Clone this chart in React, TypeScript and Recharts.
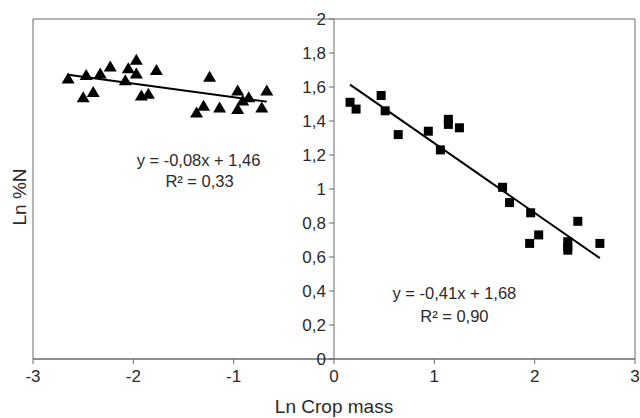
import {
  ScatterChart, Scatter, XAxis, YAxis, ReferenceLine, ReferenceArea, ReferenceDot,
} from 'recharts'

// low crop mass group (triangles)
const lowX = [-2.65, -2.47, -2.50, -2.40, -2.33, -2.23, -2.08, -2.05, -1.97, -1.97, -1.92, -1.85, -1.77,
  -1.24, -1.37, -1.30, -1.14, -0.96, -0.96, -0.91, -0.85, -0.72, -0.67]
const lowY = [1.65, 1.67, 1.54, 1.57, 1.68, 1.72, 1.64, 1.71, 1.76, 1.68, 1.55, 1.56, 1.70,
  1.66, 1.45, 1.49, 1.48, 1.58, 1.47, 1.52, 1.54, 1.48, 1.58]

// high crop mass group (squares)
const highX = [0.16, 0.22, 0.47, 0.51, 0.64, 0.94, 1.06, 1.14, 1.14, 1.25,
  1.68, 1.75, 1.96, 2.43, 2.04, 1.95, 2.33, 2.33, 2.33, 2.65]
const highY = [1.51, 1.47, 1.55, 1.46, 1.32, 1.34, 1.23, 1.41, 1.38, 1.36,
  1.01, 0.92, 0.86, 0.81, 0.73, 0.68, 0.69, 0.66, 0.64, 0.68]

// trend line end points
const lowFitX = [-2.65, -0.67]
const lowFitY = [1.672, 1.514]
const highFitX = [0.16, 2.65]
const highFitY = [1.614, 0.593]

const xTicks = [-3, -2, -1, 0, 1, 2, 3]
const yTicks = [0, 0.2, 0.4, 0.6, 0.8, 1, 1.2, 1.4, 1.6, 1.8, 2]

const lowLabel = ['y = -0,08x + 1,46', 'R² = 0,33']
const highLabel = ['y = -0,41x + 1,68', 'R² = 0,90']

const AXIS = '#6b6b6b'
const INK = '#2a2a2a'
const FONT = '"Liberation Sans", Arial, sans-serif'

const zip = (xs: number[], ys: number[]) => xs.map((x, i) => ({ x, y: ys[i] }))
const fmt = (v: number) => String(v).replace('.', ',')

function Triangle({ cx, cy }: { cx?: number; cy?: number }) {
  if (cx == null || cy == null) return null
  return <path d={`M${cx},${cy - 6}L${cx + 6.5},${cy + 5}L${cx - 6.5},${cy + 5}Z`} fill="#000" />
}

function Square({ cx, cy }: { cx?: number; cy?: number }) {
  if (cx == null || cy == null) return null
  return <rect x={cx - 4.5} y={cy - 4.5} width={9} height={9} fill="#000" />
}

function YTitle({ viewBox }: { viewBox?: { x: number; y: number; width: number; height: number } }) {
  if (!viewBox) return null
  const x = viewBox.x + 19
  const y = viewBox.y + viewBox.height / 2 + 8
  return (
    <text x={x} y={y} transform={`rotate(-90 ${x} ${y})`} textAnchor="middle" dominantBaseline="central"
      fill={INK} fontSize={19} fontFamily={FONT}>
      Ln %N
    </text>
  )
}

const noDot = () => null

export default function App() {
  return (
    <div style={{ fontFamily: FONT }}>
      <style>{'body{margin:0}'}</style>
      <ScatterChart width={640} height={418} margin={{ top: 19, right: 5, bottom: 4, left: 0 }}>
        <XAxis
          type="number" dataKey="x" domain={[-3, 3]} ticks={xTicks} allowDataOverflow
          stroke={AXIS} tickSize={5} tickMargin={6}
          tick={{ fill: INK, fontSize: 17, fontFamily: FONT }}
          height={55}
          label={{ value: 'Ln Crop mass', position: 'insideBottom', offset: 1, fill: INK, fontSize: 19, fontFamily: FONT }}
        />
        <YAxis
          type="number" dataKey="y" domain={[0, 2]} ticks={yTicks} allowDataOverflow
          width={33} tick={false} axisLine={false} tickLine={false}
          label={<YTitle />}
        />

        <ReferenceArea x1={-3} x2={3} y1={0} y2={2} fill="none" stroke={AXIS} strokeWidth={1} />
        <ReferenceLine x={0} stroke={AXIS} strokeWidth={1} />
        {yTicks.map(t => (
          <ReferenceLine
            key={t}
            segment={[{ x: -0.05, y: t }, { x: 0, y: t }]}
            stroke={AXIS}
            label={{ value: fmt(t), position: 'left', offset: 3, fill: INK, fontSize: 17, fontFamily: FONT }}
          />
        ))}

        <Scatter data={zip(lowX, lowY)} shape={<Triangle />} isAnimationActive={false} />
        <Scatter data={zip(highX, highY)} shape={<Square />} isAnimationActive={false} />
        <Scatter data={zip(lowFitX, lowFitY)} line={{ stroke: '#000', strokeWidth: 2 }} shape={noDot} isAnimationActive={false} />
        <Scatter data={zip(highFitX, highFitY)} line={{ stroke: '#000', strokeWidth: 2 }} shape={noDot} isAnimationActive={false} />

        <ReferenceDot x={-1.35} y={1.17} r={0} stroke="none"
          label={{ value: lowLabel[0], position: 'center', fill: INK, fontSize: 16.5, fontFamily: FONT }} />
        <ReferenceDot x={-1.34} y={1.045} r={0} stroke="none"
          label={{ value: lowLabel[1], position: 'center', fill: INK, fontSize: 16.5, fontFamily: FONT }} />
        <ReferenceDot x={1.2} y={0.39} r={0} stroke="none"
          label={{ value: highLabel[0], position: 'center', fill: INK, fontSize: 16.5, fontFamily: FONT }} />
        <ReferenceDot x={1.2} y={0.25} r={0} stroke="none"
          label={{ value: highLabel[1], position: 'center', fill: INK, fontSize: 16.5, fontFamily: FONT }} />
      </ScatterChart>
    </div>
  )
}
